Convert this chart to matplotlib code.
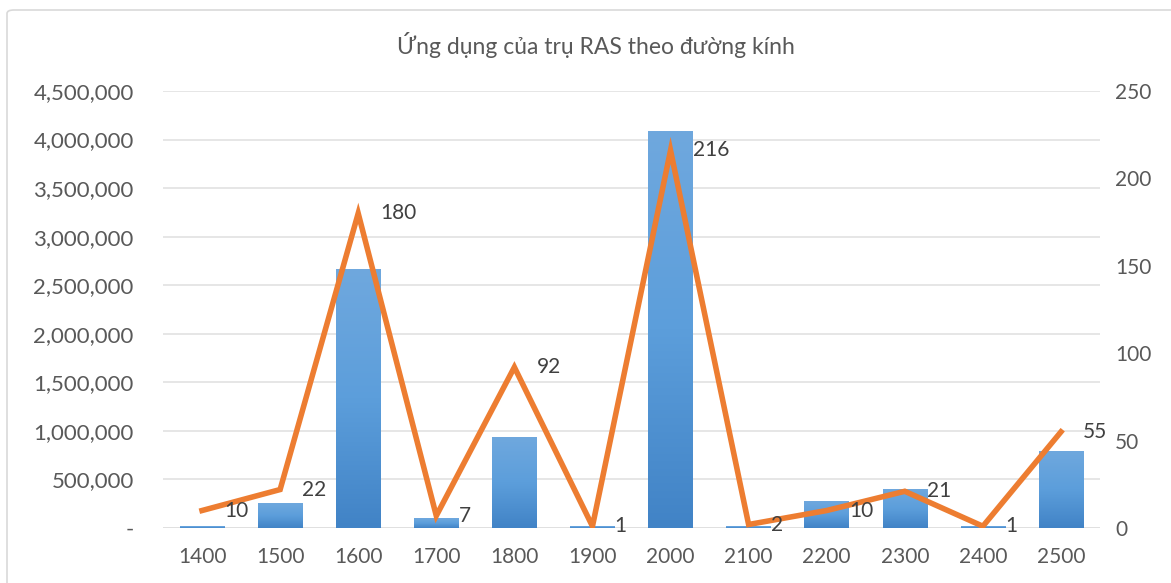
import numpy as np
import matplotlib
matplotlib.use("Agg")
import matplotlib.pyplot as plt
from matplotlib.colors import LinearSegmentedColormap
from matplotlib.patches import FancyBboxPatch
from matplotlib.ticker import FuncFormatter, MultipleLocator

plt.rcParams['font.family'] = ['Lato', 'DejaVu Sans']

# đường kính trụ (mm)
diameters = ["1400", "1500", "1600", "1700", "1800", "1900",
             "2000", "2100", "2200", "2300", "2400", "2500"]
# khối lượng / chiều dài (trục trái)
bar_values = [15000, 255000, 2660000, 100000, 935000, 15000,
              4080000, 12000, 270000, 400000, 15000, 790000]
# số lượng trụ (trục phải)
line_values = [10, 22, 180, 7, 92, 1, 216, 2, 10, 21, 1, 55]

title = "Ứng dụng của trụ RAS theo đường kính"
text_col = "#595959"
grid_col = "#e1e1e1"

fig = plt.figure(figsize=(11.71, 5.83), dpi=100)
fig.patches.append(FancyBboxPatch((7 / 1171, -0.05), 1.2, 1.05 - 10 / 583,
                                  boxstyle="round,pad=0,rounding_size=0.006",
                                  transform=fig.transFigure, fill=False,
                                  edgecolor="#d9d9d9", linewidth=1.2))

ax = fig.add_axes([163 / 1171, 1 - 528 / 583, 937 / 1171, 437 / 583])
x = np.arange(len(diameters))
w = 0.57

# cột tô màu chuyển từ nhạt (trên) sang đậm (dưới)
cmap = LinearSegmentedColormap.from_list("blues", ["#4183c6", "#5c9edb", "#6fa8de"])
grad = np.linspace(0, 1, 256).reshape(-1, 1)
for xi, v in zip(x, bar_values):
    ax.imshow(grad, extent=[xi - w / 2, xi + w / 2, 0, v], origin="lower",
              aspect="auto", cmap=cmap, zorder=2)

ax.set_xlim(-0.5, len(x) - 0.5)
ax.set_ylim(0, 4500000)
ax.yaxis.set_major_locator(MultipleLocator(500000))
ax.yaxis.set_major_formatter(FuncFormatter(lambda v, p: "-" if v == 0 else f"{v:,.0f}"))
ax.set_xticks(x)
ax.set_xticklabels(diameters)
ax.grid(axis="y", color=grid_col, linewidth=1.2, zorder=0)
for s in ax.spines.values():
    s.set_visible(False)
ax.axhline(0, color="#d9d9d9", linewidth=1.2, zorder=1)
ax.tick_params(axis="both", length=0, colors=text_col, labelsize=15)
ax.tick_params(axis="y", labelsize=16, pad=21)
ax.tick_params(axis="x", pad=14)

ax2 = ax.twinx()
ax2.plot(x, line_values, color="#ed7d31", linewidth=4, solid_joinstyle="miter", zorder=3)
ax2.set_ylim(0, 250)
ax2.yaxis.set_major_locator(MultipleLocator(50))
for s in ax2.spines.values():
    s.set_visible(False)
ax2.tick_params(axis="y", length=0, colors=text_col, labelsize=15, pad=11)
for xi, v in zip(x, line_values):
    ax2.annotate(str(v), (xi, v), xytext=(16, 0), textcoords="offset points",
                 ha="left", va="center", fontsize=15, color="#404040")

fig.text(596 / 1171, 1 - 45 / 583, title, ha="center", va="center",
         fontsize=16.5, color=text_col)

fig.savefig("out.png", dpi=100)
